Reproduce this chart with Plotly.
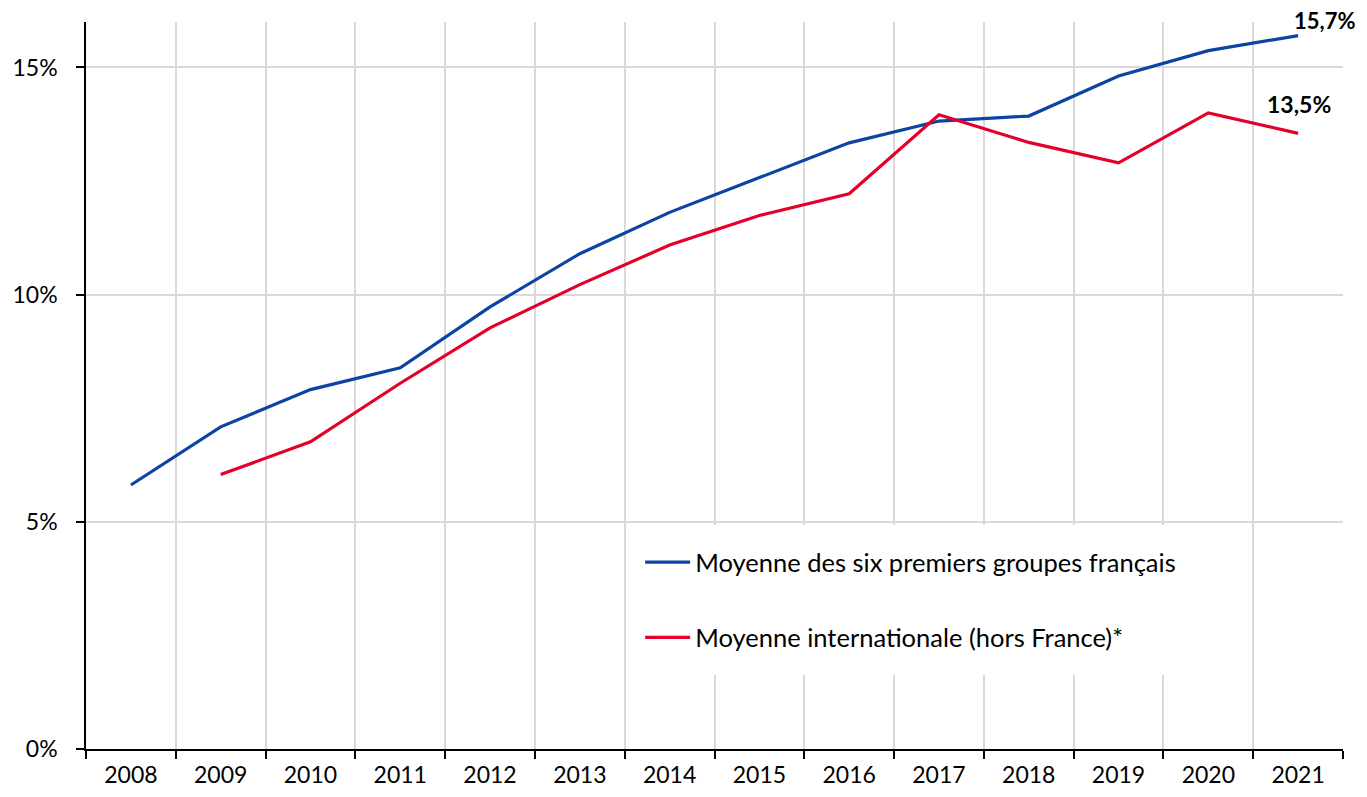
import plotly.graph_objects as go

years = ["2008", "2009", "2010", "2011", "2012", "2013", "2014",
         "2015", "2016", "2017", "2018", "2019", "2020", "2021"]
french_avg = [5.81, 7.09, 7.91, 8.39, 9.73, 10.90, 11.81,
              12.57, 13.34, 13.82, 13.93, 14.81, 15.37, 15.70]
intl_avg = [None, 6.04, 6.76, 8.05, 9.27, 10.22, 11.09,
            11.74, 12.22, 13.96, 13.35, 12.90, 14.00, 13.55]
y_ticks = [0, 5, 10, 15]
y_tick_labels = ["0%", "5%", "10%", "15%"]
name_fr = "Moyenne des six premiers groupes français"
name_intl = "Moyenne internationale (hors France)*"
label_fr = "15,7%"
label_intl = "13,5%"

BLUE = "#0B44A3"
RED = "#E4002B"
FONT = "Lato"
last = len(years) - 1

fig = go.Figure()
fig.add_trace(go.Scatter(x=years, y=french_avg, mode="lines", name=name_fr,
                         line=dict(color=BLUE, width=3.2), legendgroup="a"))
fig.add_trace(go.Scatter(x=years, y=intl_avg, mode="lines", name=name_intl,
                         line=dict(color=RED, width=3.2), legendgroup="b"))

fig.add_annotation(x=last, y=french_avg[last], text="<b>" + label_fr + "</b>",
                   showarrow=False, xanchor="left", yanchor="bottom",
                   xshift=-6, yshift=0, font=dict(family=FONT, size=22, color="black"))
fig.add_annotation(x=last, y=intl_avg[last], text="<b>" + label_intl + "</b>",
                   showarrow=False, xanchor="center", yanchor="bottom",
                   xshift=1, yshift=13, font=dict(family=FONT, size=23, color="black"))

fig.update_layout(
    width=1359, height=789,
    margin=dict(l=78, r=24, t=14, b=48),
    paper_bgcolor="white", plot_bgcolor="white",
    font=dict(family=FONT, size=22, color="black"),
    showlegend=True,
    legend=dict(x=0.4297, y=0.308, xanchor="left", yanchor="top",
                bgcolor="white", bordercolor="white", borderwidth=14,
                font=dict(family=FONT, size=25.5, color="black"),
                tracegroupgap=39, itemwidth=45),
)
fig.update_xaxes(
    type="category", range=[-0.5, 13.5], tickson="boundaries", automargin=False,
    showgrid=True, gridcolor="#D9D9D9", gridwidth=1.5,
    showline=True, linecolor="black", linewidth=1.5,
    ticks="outside", ticklen=8, tickcolor="black", tickwidth=1.5,
    ticklabelstandoff=5,
    tickfont=dict(family=FONT, size=23, color="black"),
)
fig.update_yaxes(
    range=[0, 16], tickvals=y_ticks, ticktext=y_tick_labels, automargin=False,
    showgrid=True, gridcolor="#D9D9D9", gridwidth=1.5, zeroline=False,
    showline=True, linecolor="black", linewidth=1.5,
    ticks="outside", ticklen=8, tickcolor="black", tickwidth=1.5,
    ticklabelstandoff=14,
    tickfont=dict(family=FONT, size=23, color="black"),
)

fig.write_html("out.html")
